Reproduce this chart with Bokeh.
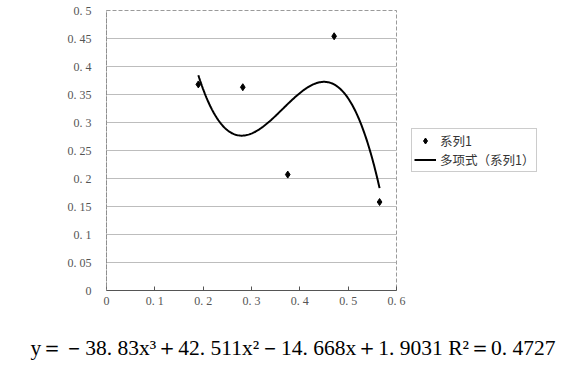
import numpy as np
from bokeh.plotting import figure
from bokeh.models import (Range1d, FixedTicker, Title, Legend, LegendItem,
                          CustomJSTickFormatter)
from bokeh.embed import file_html
from bokeh.resources import INLINE

# data
x_vals = [0.19, 0.282, 0.375, 0.471, 0.565]
y_vals = [0.368, 0.363, 0.207, 0.454, 0.158]
poly_coef = [-38.83, 42.511, -14.668, 1.9031]  # cubic trendline shown in chart
x_ticks = [0, 0.1, 0.2, 0.3, 0.4, 0.5, 0.6]
y_ticks = [0, 0.05, 0.1, 0.15, 0.2, 0.25, 0.3, 0.35, 0.4, 0.45, 0.5]
series_name = "系列1"
trend_name = "多项式（系列1）"
equation = "y＝－38. 83x³＋42. 511x²－14. 668x＋1. 9031 R²＝0. 4727"

p = figure(frame_width=290, frame_height=280, output_backend="svg", toolbar_location=None,
           x_range=Range1d(0, 0.6), y_range=Range1d(0, 0.5),
           min_border_left=106, min_border_right=170, min_border_top=10,
           min_border_bottom=68)
p.background_fill_color = "white"
p.border_fill_color = "white"
p.outline_line_color = "#9a9a9a"
p.outline_line_dash = "4 2"

p.xgrid.visible = False
p.ygrid.ticker = FixedTicker(ticks=y_ticks)
p.ygrid.grid_line_color = "#bdbdbd"

fmt = CustomJSTickFormatter(code="return tick == 0 ? '0' : tick.toFixed(Math.round(tick*100) % 10 == 0 ? 1 : 2).replace('.', '. ');")

p.xaxis.ticker = FixedTicker(ticks=x_ticks)
p.yaxis.ticker = FixedTicker(ticks=y_ticks)
p.xaxis.formatter = fmt
p.yaxis.formatter = fmt
for ax in (p.xaxis, p.yaxis):
    ax.major_label_text_font = "Liberation Serif"
    ax.major_label_text_font_size = "12px"
    ax.major_label_text_color = "#555555"
    ax.minor_tick_line_color = None
p.xaxis.axis_line_color = "#555555"
p.xaxis.major_tick_line_color = "#555555"
p.xaxis.major_tick_in = 4
p.xaxis.major_tick_out = 0
p.xaxis.major_label_standoff = 3
p.yaxis.axis_line_color = "#8a8a8a"
p.yaxis.axis_line_dash = "2 1"
p.yaxis.major_tick_line_color = None
p.yaxis.major_label_standoff = 9

# trendline from the displayed polynomial
xt = np.linspace(min(x_vals), max(x_vals), 200)
yt = np.polyval(poly_coef, xt)
r_line = p.line(xt, yt, line_color="black", line_width=2)
r_pts = p.scatter(x_vals, y_vals, marker="diamond", size=7, color="black")

legend = Legend(items=[LegendItem(label=series_name, renderers=[r_pts]),
                       LegendItem(label=trend_name, renderers=[r_line])],
                location="center_left")
legend.label_text_font = "Noto Sans CJK SC"
legend.label_text_font_size = "12.5px"
legend.label_text_color = "#333333"
legend.border_line_color = "#9a9a9a"
legend.border_line_width = 1
legend.padding = 2
legend.spacing = 0
legend.margin = 15
legend.glyph_width = 22
legend.glyph_height = 15
legend.label_height = 15
legend.label_standoff = 4
legend.background_fill_alpha = 1
p.add_layout(legend, "right")

eq_title = Title(text=equation, align="left", offset=-76,
                 text_font="Liberation Serif", text_font_size="21.5px",
                 text_font_style="normal", text_color="black", standoff=46)
p.add_layout(eq_title, "below")

open("out.html", "w").write(file_html(p, INLINE))
